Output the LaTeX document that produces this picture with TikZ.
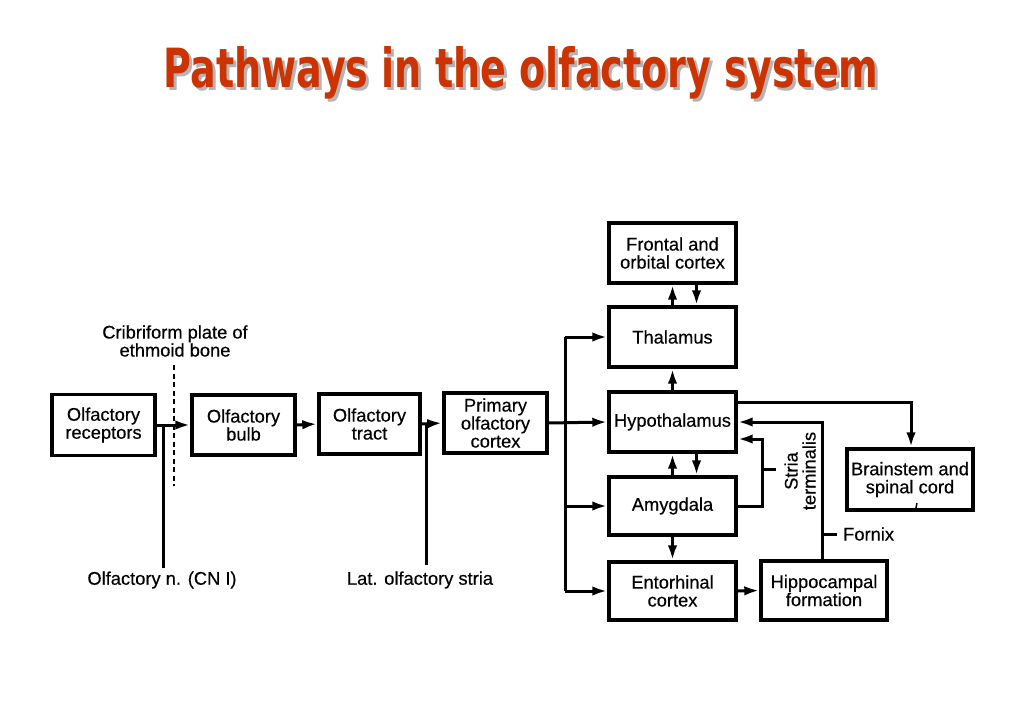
\documentclass[tikz,border=0pt]{standalone}
\usepackage{fontspec}
\setmainfont{Liberation Sans}
\newfontfamily\boxfont{Liberation Sans}[FakeBold=0.4]
\newfontfamily\titlefont{DejaVu Sans}
\usepackage{tikz}
\usetikzlibrary{calc,arrows.meta}
\definecolor{titlered}{RGB}{204,51,0}
\definecolor{shadowgray}{RGB}{180,180,180}

\tikzset{
  box/.style={draw,line width=3.4pt,align=center,inner sep=0pt,font=\boxfont\fontsize{18.3}{18}\selectfont},
  arr/.style={line width=3pt,-{Latex[length=15pt,width=9.5pt]}},
  lead/.style={line width=3pt},
  lbl/.style={align=center,inner sep=0pt,font=\boxfont\fontsize{18.3}{18}\selectfont},
  ttlfont/.style={anchor=base,inner sep=0pt,font=\titlefont\bfseries\fontsize{54}{54}\selectfont,xscale=0.705}
}

\begin{document}
\begin{tikzpicture}[x=1pt,y=-1pt]
\useasboundingbox[fill=white] (0,0) rectangle (1024,722);
%Title
\node[ttlfont,text=shadowgray] (ttlshadow) at (524,91) {Pathways in the olfactory system};
\node[ttlfont,text=titlered] (ttl) at (521,88) {Pathways in the olfactory system};

%Boxes
\node[box,minimum width=103pt,minimum height=61pt] (rec) at (103.5,425) {Olfactory\\receptors};
\node[box,minimum width=103pt,minimum height=60pt] (bulb) at (243.5,425) {Olfactory\\bulb};
\node[box,minimum width=101pt,minimum height=60pt] (tract) at (369.5,424) {Olfactory\\tract};
\node[box,minimum width=103pt,minimum height=60pt] (prim) at (495.5,423) {Primary\\olfactory\\cortex};
\node[box,minimum width=127pt,minimum height=60pt] (front) at (672.5,253) {Frontal and\\orbital cortex};
\node[box,minimum width=127pt,minimum height=60pt] (thal) at (672.5,337) {Thalamus};
\node[box,minimum width=127pt,minimum height=60pt] (hypo) at (672.5,422) {Hypothalamus};
\node[box,minimum width=127pt,minimum height=58pt] (amyg) at (672.5,506) {Amygdala};
\node[box,minimum width=127pt,minimum height=58pt] (ento) at (672.5,591) {Entorhinal\\cortex};
\node[box,minimum width=126pt,minimum height=59pt] (hippo) at (824,590.5) {Hippocampal\\formation};
\node[box,minimum width=126pt,minimum height=61pt] (brain) at (910,479.5) {Brainstem and\\spinal cord};

%Labels
\node[lbl] (crib) at (175,341) {Cribriform plate of\\ethmoid bone};
\node[lbl] (cnIlab) at (162,580) {Olfactory n. (CN I)};
\node[lbl] (latlab) at (420,580) {Lat. olfactory stria};
\node[lbl,rotate=90] (stria) at (800,471) {Stria\\terminalis};
\node[lbl,anchor=west] (fornix) at (843,534) {Fornix};

%Main row
\draw[arr] (rec.east) -- (bulb.west);
\draw[arr] (bulb.east) -- (tract.west);
\draw[arr] (tract.east) -- (prim.west);
\draw[arr] (prim.east) -- (hypo.west);
\coordinate (cnI) at (163,568);
\draw[lead] (cnI) -- (cnI |- rec.east);
\coordinate (lat) at (426,565);
\draw[lead] (lat) -- (lat |- tract.east);
\draw[line width=2.8pt,dash pattern=on 5pt off 3.5pt] (174,365) -- (174,486);

%Distribution from primary cortex
\coordinate (tr) at (565,0);
\draw[lead] (tr |- thal.west) -- (tr |- ento.west);
\draw[arr] (tr |- thal.west) -- (thal.west);
\draw[arr] (tr |- amyg.west) -- (amyg.west);
\draw[arr] (tr |- ento.west) -- (ento.west);

%Vertical links
\draw[arr] (thal.north) -- (front.south);
\draw[arr] ([xshift=24pt]front.south) -- ([xshift=24pt]thal.north);
\draw[arr] (hypo.north) -- (thal.south);
\draw[arr] (amyg.north) -- (hypo.south);
\draw[arr] ([xshift=24pt]hypo.south) -- ([xshift=24pt]amyg.north);
\draw[arr] (amyg.south) -- (ento.north);
\draw[arr] (ento.east) -- (hippo.west);

%Right side pathways
\draw[arr] ([yshift=20pt]hypo.east) -| ([xshift=1pt]brain.north);
\draw[arr] ([xshift=-2pt]hippo.north) |- (hypo.east);
\draw[arr] (amyg.east) -- ++(25,0) |- ([yshift=-17pt]hypo.east);
\coordinate (striatick) at (761,469);
\draw[lead] (striatick) -- ++(15,0);
\coordinate (fornixtick) at (822,534);
\draw[lead] (fornixtick) -- ++(15,0);
\draw[line width=1.4pt] (917,503) -- (915.5,510);
\end{tikzpicture}
\end{document}
